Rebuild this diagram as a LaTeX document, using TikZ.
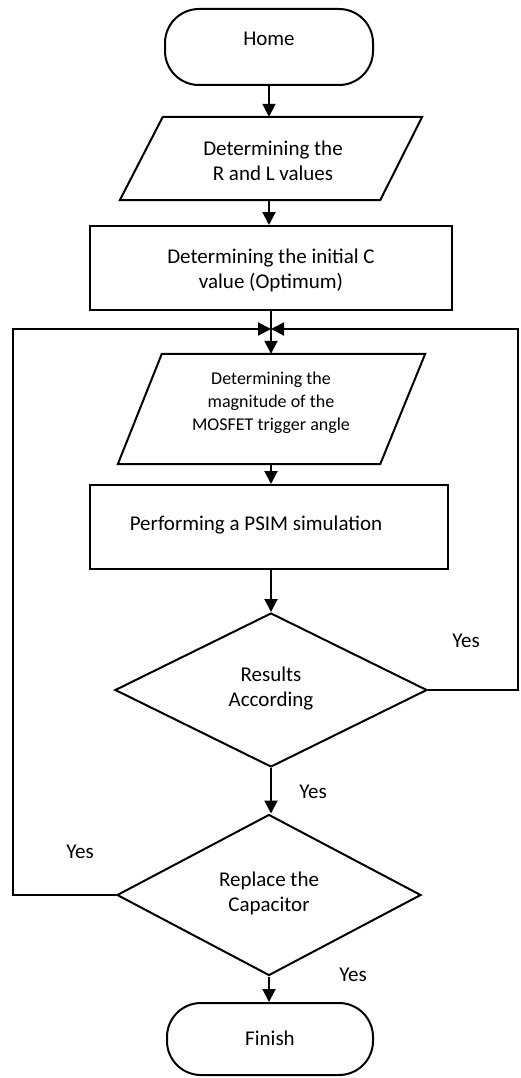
\documentclass[tikz,border=0pt]{standalone}
\usepackage{fontspec}
\setmainfont{Carlito}
\usetikzlibrary{shapes.geometric,arrows.meta,calc}
\begin{document}
\begin{tikzpicture}[x=1pt,y=-1pt,
 line/.style={line width=2pt},
 arr/.style={line width=2pt, -{Triangle[length=13pt,width=13pt]}},
 txt/.style={font=\fontsize{21}{25}\selectfont, align=center},
 stxt/.style={font=\fontsize{18}{23}\selectfont, align=center},
 term/.style={draw, line width=2pt, rounded corners=34pt, minimum width=208pt, minimum height=76pt},
 box/.style={draw, line width=2pt, minimum height=84pt},
 frame/.style={minimum height=83pt, inner sep=0pt},
 dec/.style={draw, diamond, line width=2pt, inner sep=0pt},
 lbl/.style={font=\fontsize{21}{25}\selectfont}]
\useasboundingbox (0,0) rectangle (520,1078);

% Home
\node[term] (home) at (269,47) {};
\node[txt] (homet) at (269,39) {Home};

% Parallelogram 1
\node[frame, minimum width=302pt] (p1) at (271,158.5) {};
\draw[line] (p1.south west) -- ($(p1.north west)+(43,0)$) -- (p1.north east) -- ($(p1.south east)+(-42,0)$) -- cycle;
\node[txt] (p1t) at (273,161) {Determining the\\R and L values};

% Rectangle 1
\node[box, minimum width=362pt] (r1) at (271,268) {};
\node[txt] (r1t) at (271,270.5) {Determining the initial C\\value (Optimum)};

% Junction
\coordinate (J) at (271,329);

% Parallelogram 2
\node[frame, minimum width=307pt, minimum height=110pt] (p2) at (271.5,409) {};
\draw[line] (p2.south west) -- ($(p2.north west)+(44,0)$) -- (p2.north east) -- ($(p2.south east)+(-45,0)$) -- cycle;
\node[stxt] (p2t) at (271,403) {Determining the\\magnitude of the\\MOSFET trigger angle};

% Rectangle 2
\node[box, minimum width=358pt] (r2) at (269,527) {};
\node[txt] (r2t) at (256,525) {Performing a PSIM simulation};

% Decision 1
\node[dec, minimum width=312pt, minimum height=154pt] (d1) at (271,690) {};
\node[txt] (d1t) at (271,689) {Results\\According};

% Decision 2
\node[dec, minimum width=304pt, minimum height=161pt] (d2) at (269,895) {};
\node[txt] (d2t) at (269,893) {Replace the\\Capacitor};

% Finish
\node[term, minimum width=206pt, minimum height=72pt] (fin) at (270,1039) {};
\node[txt] (fint) at (270,1038) {Finish};

% Corner coordinates of loop-backs
\coordinate (L1) at (13,895);
\coordinate (L2) at (13,329);
\coordinate (R1) at (518,690);
\coordinate (R2) at (518,329);

% Connectors
\draw[arr] (home.south) -- (home.south |- p1.north);
\draw[arr] (home.south |- p1.south) -- (home.south |- r1.north);
\draw[line] (r1.south -| J) -- (J);
\draw[arr] (J) -- (J |- p2.north);
\draw[arr] (J |- p2.south) -- (J |- r2.north);
\draw[arr] (r2.south -| d1.north) -- (d1.north);
\draw[arr] (d1.south) -- (d1.south |- d2.north);
\draw[arr] (d2.south) -- (d2.south |- fin.north);
\draw[arr] (d2.west) -- (L1) -- (L2) -- (J);
\draw[arr] (d1.east) -- (R1) -- (R2) -- (J);

% Labels
\node[lbl] (y1) at (466,641) {Yes};
\node[lbl] (y2) at (313,792) {Yes};
\node[lbl] (y3) at (80,852) {Yes};
\node[lbl] (y4) at (353,975) {Yes};
\end{tikzpicture}
\end{document}
